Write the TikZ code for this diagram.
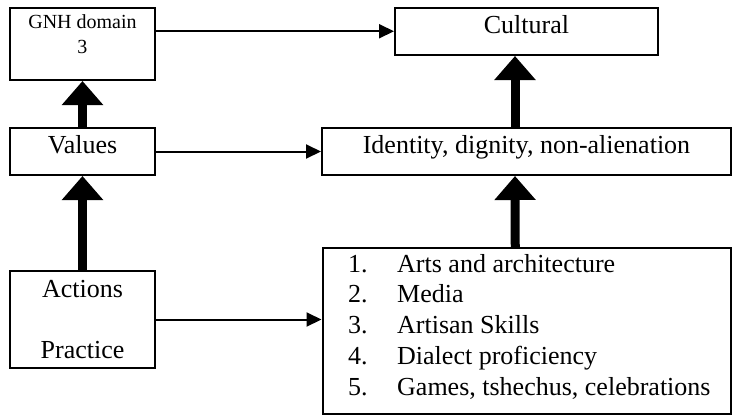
\documentclass[tikz,border=0pt]{standalone}
\usepackage{fontspec}
\setmainfont{Liberation Serif}
\usetikzlibrary{arrows.meta}
\begin{document}
\begin{tikzpicture}[x=1pt,y=-1pt,
  box/.style={draw, line width=2pt, rectangle, inner sep=0pt, font=\fontsize{26}{30.9}\selectfont},
  thinarrow/.style={line width=2pt, -{Triangle[length=15pt,width=14pt]}},
  bigarrow/.style={line width=9pt, -{Triangle[length=24pt,width=40pt]}},
  txt/.style={inner sep=0pt, font=\fontsize{26}{30.9}\selectfont}
  ]
\useasboundingbox (0,0) rectangle (735,416);
% left column
\node[box, minimum width=145pt, minimum height=72.5pt] (gnh) at (82.5,43.75) {};
\node[txt, anchor=north, align=center, font=\fontsize{20}{25}\selectfont] (gnhtext) at (82.5,14.3) {GNH domain\\3};
\node[box, minimum width=145pt, minimum height=47pt, text height=18pt, text depth=15pt] (values) at (82.5,151.5) {Values};
\node[box, minimum width=145pt, minimum height=97pt, align=center] (actions) at (82.5,319.5) {Actions\\[30.9pt]Practice};
% right column
\node[box, minimum width=263pt, minimum height=47.5pt, text height=18pt, text depth=14.5pt] (cultural) at (526.5,31.25) {Cultural};
\node[box, minimum width=409pt, minimum height=47pt, text height=18pt, text depth=15pt] (identity) at (526.5,151.5) {Identity, dignity, non-alienation};
\node[box, minimum width=408.5pt, minimum height=166pt] (list) at (526.75,331) {};
\node[txt, anchor=base west] (items) at (348,272) {\begin{tabular}[t]{@{}l@{\hspace{29.5pt}}l@{}}
1. & Arts and architecture\\
2. & Media\\
3. & Artisan Skills\\
4. & Dialect proficiency\\
5. & Games, tshechus, celebrations
\end{tabular}};
% thin connectors
\draw[thinarrow] (gnh.east |- cultural.west) -- (cultural.west);
\draw[thinarrow] (values.east) -- (identity.west);
\draw[thinarrow] (actions.east) -- (actions.east -| list.west);
% thick connectors
\draw[bigarrow] (values.north) -- (gnh.south);
\draw[bigarrow] (actions.north) -- (values.south);
\draw[bigarrow] ([xshift=-11.5pt]identity.north) -- ([xshift=-11.5pt]cultural.south);
\draw[bigarrow] ([xshift=-11.5pt]list.north) -- ([xshift=-11.5pt]identity.south);
\end{tikzpicture}
\end{document}
